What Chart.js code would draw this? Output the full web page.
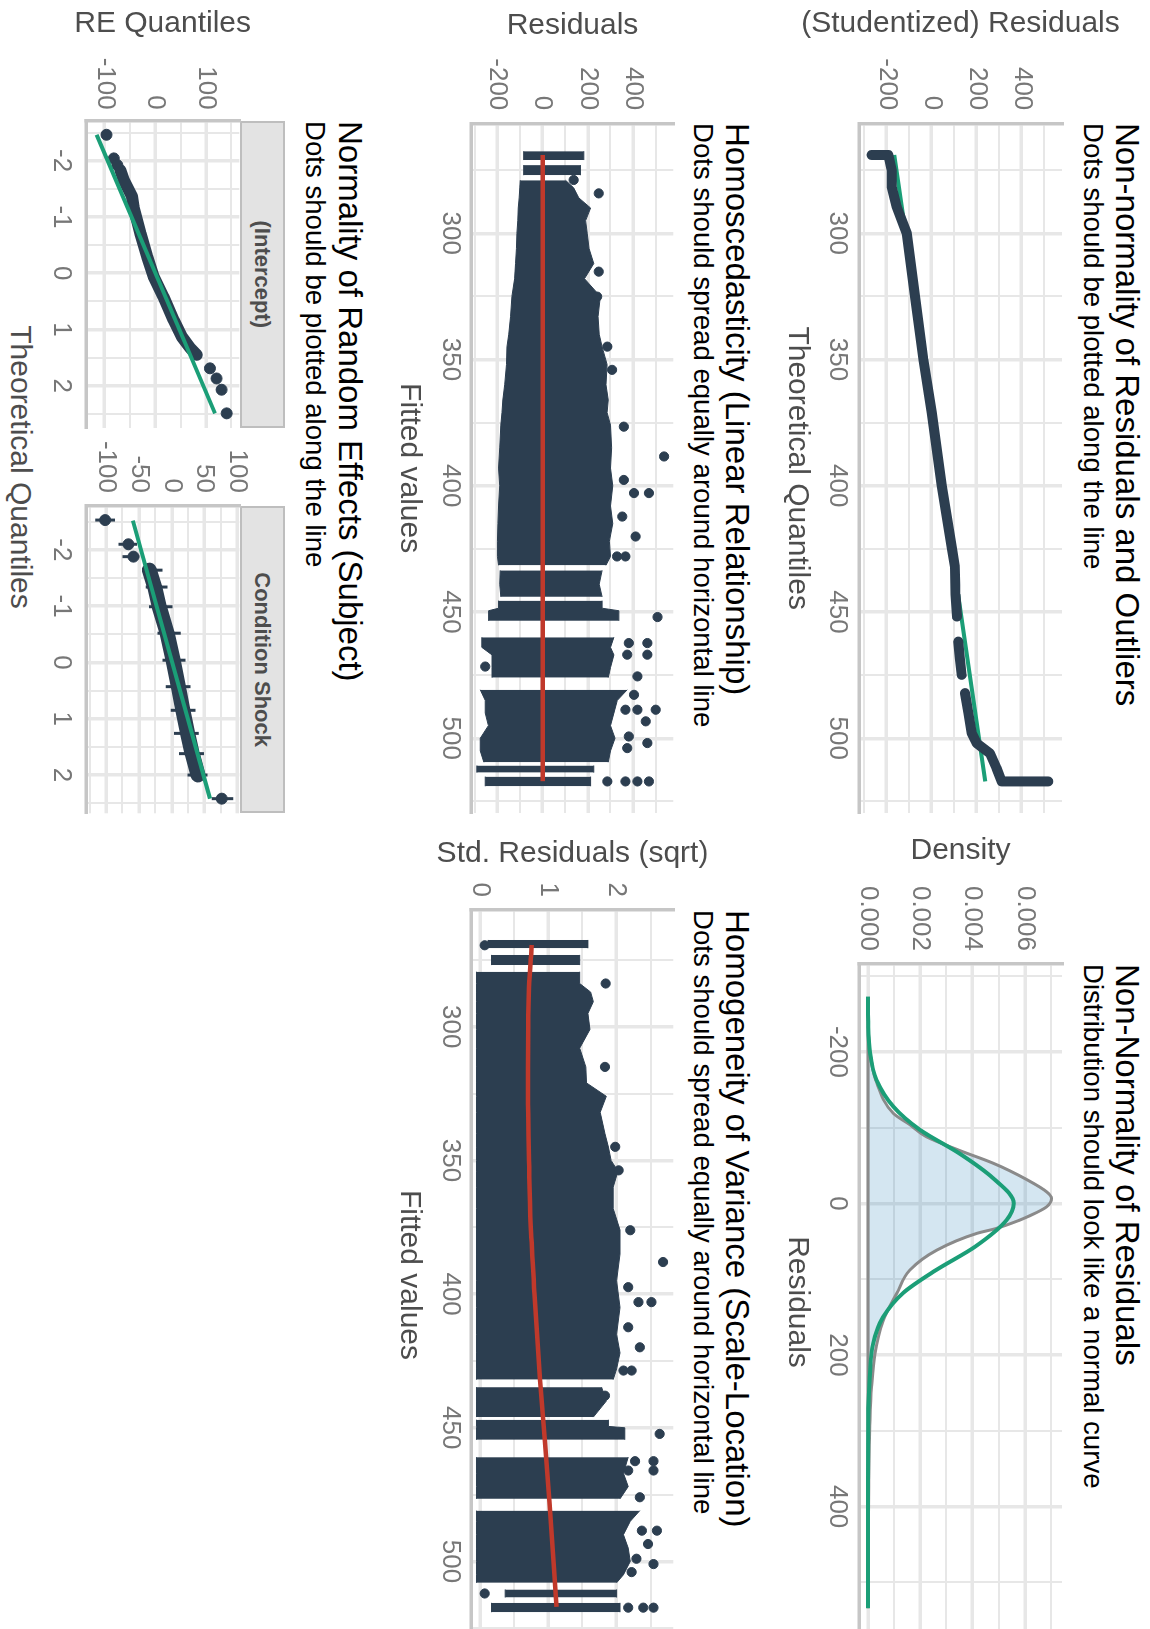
<!DOCTYPE html>
<html>
<head>
<meta charset="utf-8">
<title>Model diagnostics</title>
<script src="https://cdn.jsdelivr.net/npm/chart.js@4/dist/chart.umd.min.js"></script>
<style>
  html, body { margin:0; padding:0; background:#ffffff; width:1150px; height:1629px; overflow:hidden; }
  #stage { position:absolute; left:0; top:0; width:1660px; height:1150px; transform-origin:0 0; transform:translate(1150px,0) rotate(90deg); font-family:'Liberation Sans', Arial, Helvetica, sans-serif; }
  #stage canvas { position:absolute; }
  .ttl { position:absolute; white-space:nowrap; line-height:1; color:#000; font-size:33px; }
  .sub { position:absolute; white-space:nowrap; line-height:1; color:#000; font-size:27.6px; }
  .axt { position:absolute; white-space:nowrap; line-height:1; color:#4d4d4d; font-size:30px; text-align:center; }
  .strip { position:absolute; box-sizing:border-box; background:#e3e3e3; border:2px solid #bebebe; color:#4d4d4d; font-weight:bold; font-size:22px; display:flex; align-items:center; justify-content:center; }
</style>
</head>
<body>
<div id="stage">
  <div class="ttl" style="left:123px; top:6px;">Non-normality of Residuals and Outliers</div>
  <div class="sub" style="left:123px; top:43px;">Dots should be plotted along the line</div>
  <div class="ttl" style="left:964px; top:6px;">Non-Normality of Residuals</div>
  <div class="sub" style="left:964px; top:43px;">Distribution should look like a normal curve</div>
  <div class="ttl" style="left:123px; top:396px;">Homoscedasticity (Linear Relationship)</div>
  <div class="sub" style="left:123px; top:433px;">Dots should spread equally around horizontal line</div>
  <div class="ttl" style="left:910px; top:396px;">Homogeneity of Variance (Scale-Location)</div>
  <div class="sub" style="left:910px; top:433px;">Dots should spread equally around horizontal line</div>
  <div class="ttl" style="left:121px; top:783px;">Normality of Random Effects (Subject)</div>
  <div class="sub" style="left:121px; top:821px;">Dots should be plotted along the line</div>
  <div class="strip" style="left:120.7px; top:865px; width:307.3px; height:45px;">(Intercept)</div>
  <div class="strip" style="left:506px; top:865px; width:307.3px; height:45px;">Condition Shock</div>
  <div class="axt" style="left:0; width:934px; top:1114px;">Theoretical Quantiles</div>
</div>
<script>
// ================= DATA =================
// tick values
const fitTicks  = [275, 300, 325, 350, 375, 400, 425, 450, 475, 500, 525];
const fitMajor  = [300, 350, 400, 450, 500];
const resTicks  = [-300, -200, -100, 0, 100, 200, 300, 400, 500];
const resMajor  = [-200, 0, 200, 400];
const denTicks  = [0, 0.001, 0.002, 0.003, 0.004, 0.005, 0.006, 0.007];
const denMajor  = [0, 0.002, 0.004, 0.006];
const sqrtTicks = [0, 0.5, 1, 1.5, 2, 2.5];
const sqrtMajor = [0, 1, 2];
const thTicks   = [-2.5, -2, -1.5, -1, -0.5, 0, 0.5, 1, 1.5, 2, 2.5];
const thMajor   = [-2, -1, 0, 1, 2];
const re1Ticks  = [-100, -50, 0, 50, 100, 150];
const re1Major  = [-100, 0, 100];
const re2Ticks  = [-125, -100, -75, -50, -25, 0, 25, 50, 75, 100];
const re2Major  = [-100, -50, 0, 50, 100];

// Panel 1: QQ of residuals (band of points, null = gap)
const qqPathX = [269, 269, 274.9, 281.5, 289.5, 300, 325, 350, 371, 400, 425, 432, 443, 451.8, 456, 461.7, 468, 474.9, 478, 482.1, 490, 498, 502, 506, 511.8, 517.1, 517.1];
const qqPathY = [-267, -193, -178, -178, -156, -111, -74, -37, 0, 45, 90, 103, 106, 112, null, 118, 125, 133, null, 148, 163, 178, 200, 259, 288, 311, 518];
const qqLineX = [269, 517.1];
const qqLineY = [-166, 238];

// Panel 2: densities
const normRes = [-273, -240, -199, -163, -128, -97, -66, -33, 0, 22, 57, 88, 118, 150, 185, 229, 285, 400, 534];
const normDen = [0, 0.00001, 0.00008, 0.00033, 0.00097, 0.0020, 0.0035, 0.0048, 0.00558, 0.0053, 0.0041, 0.0026, 0.00135, 0.00058, 0.0002, 0.00007, 0.00001, 0, 0];
const empRes  = [-267, -230, -198, -163, -119, -104, -88, -70, -53, -31, -15.5, -6.7, 4.4, 17.6, 22, 33, 39.5, 61.6, 88, 119, 154, 198, 242, 286, 373, 450, 534];
const empDen  = [0, 0.00002, 0.00008, 0.0003, 0.00097, 0.0016, 0.00224, 0.0035, 0.0048, 0.0061, 0.00683, 0.00702, 0.00683, 0.0061, 0.0058, 0.0049, 0.00416, 0.00263, 0.0016, 0.0011, 0.00059, 0.00027, 0.00014, 0.00008, 0.00003, 0.00001, 0];
const baseRes = [-267, 534];
const baseDen = [0, 0];

// Panel 3: residuals vs fitted (dense block envelope, null = gap)
const homF  = [267.5, 271, 272, 273, 277, 278,
  279, 282, 286, 290, 295, 300, 306, 312, 318, 325, 333, 340, 345, 352, 360, 366, 371, 376, 385, 393, 400, 408, 415, 422, 428, 431.5, 432.5,
  433.5, 439, 444, 444.7,
  445.5, 448.5, 449.5, 453.5, 456,
  460, 464, 467, 472, 476, 478,
  480.8, 485, 490, 495, 500, 505, 509.5, 510.2,
  510.8, 513.6, 514.4,
  515.2, 519];
const homLo = [-84, -84, null, -84, -84, null,
  -99, -101, -104, -108, -110, -114, -116, -120, -124, -136, -142, -150, -158, -160, -168, -176, -180, -185, -190, -195, -190, -195, -198, -200, -200, -195, null,
  -188, -190, -185, null,
  -195, -195, -239, -239, null,
  -269, -269, -224, -224, -224, null,
  -276, -254, -254, -240, -276, -276, -260, null,
  -291, -291, null,
  -254, -254];
const homHi = [182, 182, null, 167, 167, null,
  101, 137, 160, 212, 190, 197, 205, 226, 185, 255, 245, 250, 263, 285, 280, 290, 285, 300, 305, 300, 310, 300, 310, 295, 300, 280, null,
  263, 250, 263, null,
  263, 263, 337, 337, null,
  315, 300, 315, 300, 290, null,
  374, 330, 315, 300, 320, 300, 290, null,
  226, 226, null,
  212, 212];
const homOutF = [278.9, 284.2, 315.2, 325.1, 344.9, 354.1, 376.6, 388.4, 397.7, 402.9, 402.9, 412.2, 420.1, 428, 428, 452, 462.3, 462.3, 466.9, 466.9, 475.5, 471.6, 482.8, 488.7, 488.7, 488.7, 493.3, 499.3, 501.9, 503.9, 517.1, 517.1, 517.1, 517.1];
const homOutR = [137, 248, 248, 241, 286, 307, 359, 537, 359, 404, 470, 352, 411, 329, 366, 508, 381, 463, 463, 374, 419, -254, 404, 500, 419, 366, 456, 381, 463, 374, 286, 366, 419, 470];
const homRedF = [269, 517];
const homRedR = [0, 0];

// Panel 4: scale-location
const slF  = [267.5, 270.6, 271.8, 273.1, 276.9, 278,
  279.4, 283.8, 287, 290.6, 295, 301, 308, 315, 321, 326, 332, 340, 345, 350, 354, 360, 368, 376, 385, 395, 405, 415, 422, 428, 432, 433.4,
  434.8, 440, 446, 446.5,
  447, 449.5, 450, 454.5, 457,
  461, 467, 472, 476.6, 478.8,
  481, 485, 490, 495, 500, 505, 508, 509.2,
  510.5, 513.5, 514.5,
  515.5, 519];
const slLo = [0.12, 0.12, null, 0.17, 0.17, null,
  -0.05, -0.05, -0.05, -0.05, -0.05, -0.05, -0.05, -0.05, -0.05, -0.05, -0.05, -0.05, -0.05, -0.05, -0.05, -0.05, -0.05, -0.05, -0.05, -0.05, -0.05, -0.05, -0.05, -0.05, -0.05, null,
  -0.05, -0.05, -0.05, null,
  -0.05, -0.05, -0.05, -0.05, null,
  -0.05, -0.05, -0.05, -0.05, null,
  -0.05, -0.05, -0.05, -0.05, -0.05, -0.05, -0.05, null,
  0.37, 0.37, null,
  0.17, 0.17];
const slHi = [1.58, 1.58, null, 1.46, 1.46, null,
  1.46, 1.46, 1.62, 1.66, 1.58, 1.61, 1.46, 1.55, 1.56, 1.85, 1.76, 1.83, 1.88, 1.92, 2.02, 1.95, 1.95, 2.05, 2.05, 2.0, 2.05, 2.0, 2.05, 2.0, 1.95, null,
  1.78, 1.85, 1.66, null,
  1.88, 1.88, 2.12, 2.12, null,
  2.17, 2.10, 2.17, 2.05, null,
  2.34, 2.2, 2.1, 2.17, 2.2, 2.1, 2.0, null,
  2.0, 2.0, null,
  2.05, 2.05];
const slOutF = [269.5, 283.8, 315, 344.9, 353.7, 376.1, 388, 397.4, 403, 403, 412.4, 419.9, 428.6, 428.6, 438, 452.3, 462.5, 462.5, 466, 466, 476, 488.5, 488.5, 493.5, 499, 501, 504, 512, 517.3, 517.3, 517.3];
const slOutY = [0.07, 1.84, 1.83, 1.98, 2.03, 2.20, 2.68, 2.17, 2.32, 2.51, 2.17, 2.34, 2.10, 2.22, 1.83, 2.63, 2.27, 2.54, 2.17, 2.54, 2.34, 2.59, 2.37, 2.46, 2.29, 2.54, 2.22, 0.07, 2.17, 2.39, 2.54];
const slRedF = [269.4, 285, 300, 320, 350, 375, 400, 432, 478, 517];
const slRedY = [0.757, 0.72, 0.707, 0.705, 0.72, 0.745, 0.80, 0.88, 1.02, 1.12];

// Panel 5: random effects QQ
const re1BandX = [-1.83, -1.65, -1.36, -1.18, -0.71, -0.29, 0.06, 0.42, 0.83, 1.13, 1.33, 1.45];
const re1BandY = [-69, -62, -46, -43, -29.5, -16, -3.3, 16, 36, 52.5, 69, 82];
const re1DotX  = [-2.46, -2.04, -1.92, 1.69, 1.87, 2.07, 2.49];
const re1DotY  = [-96.5, -82, -75, 108, 121, 131, 141];
const re1LineX = [-2.46, 2.49];
const re1LineY = [-116, 118];

const re2BandX = [-1.64, -1.34, -0.99, -0.52, -0.04, 0.43, 0.85, 1.26, 1.62, 2.0];
const re2BandY = [-34, -26, -19, -7, 2, 10, 17, 24, 31, 40];
const re2DotX  = [-2.53, -2.10, -1.88, 2.42];
const re2DotY  = [-101.4, -66, -58.3, 76];
const re2BarX  = [-2.53, -2.10, -1.88, -1.64, -1.34, -0.99, -0.52, -0.04, 0.43, 0.85, 1.26, 1.62, 2.0, 2.42];
const re2BarLo = [-116.6, -81, -75, -44.6, -39.5, -34.5, -21.8, -14, -9, -1.5, 3.5, 11.1, 23.8, 60.8];
const re2BarHi = [-86.2, -53, -49.6, -14.2, -6.6, 1, 13.7, 20.7, 28.4, 36, 41, 49.1, 54.2, 93.6];
const re2LineX = [-2.52, 2.42];
const re2LineY = [-59.3, 58.2];

// ================= STYLE / BUILD =================
const DARK = '#2c3e50', GREEN = '#1b9e77', RED = '#c0392b';
const GRID = '#e7e7e7', AXISC = '#c6c6c6', TICKC = '#777777', TITLEC = '#4d4d4d';
const GRAYLINE = '#8a8a8a', FILLBLUE = 'rgba(41,128,185,0.2)';
Chart.defaults.font.family = "'Liberation Sans', Arial, Helvetica, sans-serif";

const stage = document.getElementById('stage');
const pts = (xs, ys) => xs.map((x, i) => ({x: x, y: ys[i]}));

function axis(o) {
  return {
    type: 'linear', position: o.pos, min: o.min, max: o.max,
    afterBuildTicks: s => { s.ticks = o.ticks.map(v => ({value: v})); },
    afterFit: s => { if (o.pos === 'bottom') s.height = o.size; else s.width = o.size; },
    grid: { color: GRID, drawTicks: false, lineWidth: c => (c.tick && o.majors.includes(c.tick.value)) ? 3.5 : 2 },
    border: { display: true, color: AXISC, width: 3.5 },
    ticks: { autoSkip: false, maxRotation: 0, minRotation: 0, padding: o.tpad, color: TICKC, font: {size: 26},
      callback: v => o.majors.includes(v) ? (o.fmt ? o.fmt(v) : String(v)) : '' },
    title: o.title ? { display: true, text: o.title, color: TITLEC, font: {size: 30}, padding: o.tp } : { display: false }
  };
}

function panel(box, area, xo, yo, datasets) {
  const W = box.R - box.L, H = box.B - box.T;
  const cv = document.createElement('canvas');
  cv.width = W; cv.height = H;
  Object.assign(cv.style, {left: box.L + 'px', top: box.T + 'px', width: W + 'px', height: H + 'px'});
  stage.appendChild(cv);
  xo.pos = 'bottom'; xo.size = box.B - area.b;
  yo.pos = 'left'; yo.size = area.l - box.L;
  return new Chart(cv, {
    type: 'line',
    data: { datasets: datasets },
    options: {
      responsive: false, animation: false, devicePixelRatio: 1, events: [],
      layout: { padding: { top: area.t - box.T, right: box.R - area.r, left: 0, bottom: 0 } },
      plugins: { legend: {display: false}, tooltip: {enabled: false}, title: {display: false} },
      elements: { point: {radius: 0, hoverRadius: 0}, line: {tension: 0} },
      scales: { x: axis(xo), y: axis(yo) }
    }
  });
}

const lineDS = (data, color, width, extra) => Object.assign({data: data, borderColor: color, borderWidth: width, pointRadius: 0, fill: false}, extra || {});
const dotDS = (data, r) => ({data: data, showLine: false, pointRadius: r, pointBackgroundColor: DARK, pointBorderColor: DARK, pointBorderWidth: 1, borderColor: DARK, backgroundColor: DARK});
const bandTop = (data) => ({data: data, borderColor: DARK, borderWidth: 1, backgroundColor: DARK, fill: '+1', pointRadius: 0});
const bandBot = (data) => ({data: data, borderColor: DARK, borderWidth: 1, pointRadius: 0, fill: false});
function bars(xs, lo, hi) {
  const out = [];
  xs.forEach((x, i) => { out.push({x: x, y: lo[i]}, {x: x, y: hi[i]}, {x: x, y: null}); });
  return out;
}

// Panel 1
panel({L:0, T:0, R:840, B:380}, {l:123.3, t:88, r:813, b:291},
  {min:256.45, max:529.6, ticks:fitTicks, majors:fitMajor, tpad:6, title:'Theoretical Quantiles', tp:{top:0, bottom:8.9}},
  {min:-323, max:579, ticks:resTicks, majors:resMajor, tpad:13, title:'(Studentized) Residuals', tp:{top:6.1, bottom:0}},
  [
    lineDS(pts(qqPathX, qqPathY), DARK, 10, {borderCapStyle:'round', borderJoinStyle:'round'}),
    lineDS(pts(qqLineX, qqLineY), GREEN, 4)
  ]);

// Panel 2
panel({L:830, T:0, R:1660, B:380}, {l:964, t:88, r:1640, b:291},
  {min:-316, max:576, ticks:resTicks, majors:resMajor, tpad:6, title:'Residuals', tp:{top:0, bottom:8.9}},
  {min:-0.00034, max:0.00742, ticks:denTicks, majors:denMajor, tpad:13, fmt: v => v.toFixed(3), title:'Density', tp:{top:3.1, bottom:0}},
  [
    lineDS(pts(normRes, normDen), GREEN, 4, {cubicInterpolationMode:'monotone'}),
    lineDS(pts(baseRes, baseDen), GRAYLINE, 3),
    lineDS(pts(empRes, empDen), GRAYLINE, 3, {cubicInterpolationMode:'monotone', fill:'origin', backgroundColor:FILLBLUE})
  ]);

// Panel 3
panel({L:0, T:390, R:840, B:770}, {l:123.3, t:476.7, r:813, b:678.3},
  {min:256.45, max:529.6, ticks:fitTicks, majors:fitMajor, tpad:6, title:'Fitted values', tp:{top:0, bottom:10.9}},
  {min:-313.8, max:577.8, ticks:resTicks, majors:resMajor, tpad:13, title:'Residuals', tp:{top:8.1, bottom:0}},
  [
    lineDS(pts(homRedF, homRedR), RED, 4.5),
    dotDS(pts(homOutF, homOutR), 4.6),
    bandTop(pts(homF, homHi)),
    bandBot(pts(homF, homLo))
  ]);

// Panel 4
panel({L:830, T:390, R:1660, B:770}, {l:910, t:476.7, r:1640, b:678.3},
  {min:256.3, max:529.4, ticks:fitTicks, majors:fitMajor, tpad:6, title:'Fitted values', tp:{top:0, bottom:10.9}},
  {min:-0.12, max:2.83, ticks:sqrtTicks, majors:sqrtMajor, tpad:13, title:'Std. Residuals (sqrt)', tp:{top:6.1, bottom:0}},
  [
    lineDS(pts(slRedF, slRedY), RED, 4.5, {cubicInterpolationMode:'monotone'}),
    dotDS(pts(slOutF, slOutY), 4.6),
    bandTop(pts(slF, slHi)),
    bandBot(pts(slF, slLo))
  ]);

// Panel 5a (Intercept)
panel({L:0, T:880, R:440, B:1150}, {l:120.7, t:910.7, r:428, b:1064},
  {min:-2.71, max:2.75, ticks:thTicks, majors:thMajor, tpad:9.5},
  {min:-137, max:166, ticks:re1Ticks, majors:re1Major, tpad:11, title:'RE Quantiles', tp:{top:6.1, bottom:0}},
  [
    lineDS(pts(re1LineX, re1LineY), GREEN, 4),
    dotDS(pts(re1DotX, re1DotY), 5.5),
    lineDS(pts(re1BandX, re1BandY), DARK, 12, {borderCapStyle:'round', borderJoinStyle:'round'})
  ]);

// Panel 5b (Condition Shock)
panel({L:440, T:880, R:830, B:1150}, {l:506, t:910.7, r:813.3, b:1064},
  {min:-2.78, max:2.68, ticks:thTicks, majors:thMajor, tpad:9.5},
  {min:-130.5, max:102.7, ticks:re2Ticks, majors:re2Major, tpad:13},
  [
    lineDS(pts(re2LineX, re2LineY), GREEN, 4),
    dotDS(pts(re2DotX, re2DotY), 5.5),
    lineDS(pts(re2BandX, re2BandY), DARK, 15, {borderCapStyle:'round', borderJoinStyle:'round'}),
    lineDS(bars(re2BarX, re2BarLo, re2BarHi), DARK, 3)
  ]);
</script>
</body>
</html>
